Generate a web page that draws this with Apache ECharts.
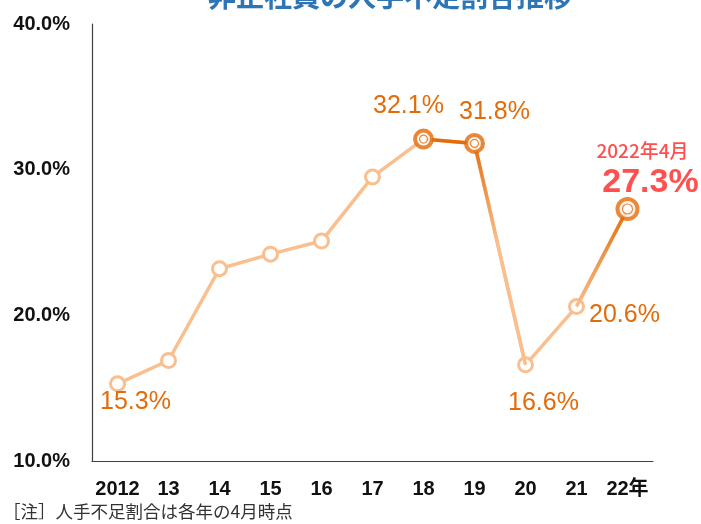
<!DOCTYPE html>
<html>
<head>
<meta charset="utf-8">
<script src="https://cdn.jsdelivr.net/npm/echarts@6/dist/echarts.min.js"></script>
<style>
  html, body { margin: 0; padding: 0; background: #fff; }
  #chart { width: 701px; height: 524px; }
</style>
</head>
<body>
<div id="chart"></div>
<script>
// データ
const years = ['2012', '13', '14', '15', '16', '17', '18', '19', '20', '21', '22年']
const shortageRate = [15.3, 16.9, 23.2, 24.2, 25.1, 29.5, 32.1, 31.8, 16.6, 20.6, 27.3]
const yTicks = [10, 20, 30, 40]
const titleText = '非正社員の人手不足割合推移'
const noteText = '［注］人手不足割合は各年の4月時点'

const LIGHT = '#F9BF8E'
const DARK = '#E36C0A'
const RED = '#FF5050'
const LABEL_FONT = "'Liberation Sans', 'Noto Sans CJK JP', sans-serif"

// ラベル表示する年と位置
const labelOffsets = { 0: [18, 18], 6: [-15, -33], 7: [20, -31], 8: [18, 38], 9: [48, 9] }
const highlightIdx = [6, 7, 10]

// 指定区間だけ残す
const segment = (from, to) => shortageRate.map((v, i) => (i >= from && i <= to ? v : null))
const onlyAt = (idx) => shortageRate.map((v, i) => (idx.includes(i) ? v : null))

const baseData = shortageRate.map((v, i) => {
  if (labelOffsets[i]) {
    return {
      value: v,
      label: {
        show: true,
        position: 'inside',
        offset: labelOffsets[i],
        formatter: (p) => p.value.toFixed(1) + '%',
        color: DARK,
        fontSize: 25,
        fontFamily: LABEL_FONT
      }
    }
  }
  if (i === 10) {
    return {
      value: v,
      label: {
        show: true,
        position: 'inside',
        offset: [15, -39],
        formatter: '{a|2022年4月}\n{b|' + v.toFixed(1) + '%}',
        align: 'center',
        rich: {
          a: { color: RED, fontSize: 19, fontFamily: "'Noto Sans CJK JP', sans-serif", fontWeight: 500, lineHeight: 26, align: 'center' },
          b: { color: RED, fontSize: 34, fontWeight: 'bold', fontFamily: LABEL_FONT, lineHeight: 38, align: 'center', padding: [0, 0, 0, 16] }
        }
      }
    }
  }
  return v
})

const chart = echarts.init(document.getElementById('chart'))

const option = {
  animation: false,
  title: {
    text: titleText,
    left: 203,
    top: -23,
    textStyle: { color: '#2E75B6', fontSize: 28, fontWeight: 'bold', fontFamily: "'Noto Sans CJK JP', sans-serif" }
  },
  graphic: [{
    type: 'text',
    left: 3,
    top: 503,
    style: { text: noteText, fill: '#333', fontSize: 17.5, fontFamily: "'Noto Sans CJK JP', sans-serif" }
  }],
  grid: { left: 92, right: 48, top: 24, bottom: 63 },
  xAxis: {
    type: 'category',
    data: years,
    boundaryGap: true,
    axisLine: { lineStyle: { color: '#404040', width: 1.2 } },
    axisTick: { show: false },
    axisLabel: { interval: 0, color: '#111', fontSize: 20, fontWeight: 'bold', margin: 18, fontFamily: LABEL_FONT }
  },
  yAxis: {
    type: 'value',
    min: yTicks[0],
    max: yTicks[yTicks.length - 1],
    interval: 10,
    axisLine: { show: true, lineStyle: { color: '#404040', width: 1.2 } },
    axisTick: { show: false },
    splitLine: { show: false },
    axisLabel: {
      color: '#111',
      fontSize: 20,
      fontWeight: 'bold',
      margin: 22,
      fontFamily: LABEL_FONT,
      formatter: (v) => v.toFixed(1) + '%'
    }
  },
  series: [
    {
      name: 'base',
      type: 'line',
      data: baseData,
      z: 2,
      lineStyle: { color: LIGHT, width: 3.5 },
      symbol: 'circle',
      symbolSize: 14,
      itemStyle: { color: '#fff', borderColor: LIGHT, borderWidth: 3 }
    },
    {
      name: '18-19',
      type: 'line',
      data: segment(6, 7),
      z: 3,
      symbol: 'none',
      lineStyle: { color: DARK, width: 3.5 }
    },
    {
      name: '19-20',
      type: 'line',
      data: segment(7, 8),
      z: 3,
      symbol: 'none',
      lineStyle: {
        width: 3.5,
        color: new echarts.graphic.LinearGradient(0, 0, 0, 1, [
          { offset: 0, color: DARK },
          { offset: 0.45, color: LIGHT },
          { offset: 1, color: LIGHT }
        ])
      }
    },
    {
      name: '21-22',
      type: 'line',
      data: segment(9, 10),
      z: 3,
      symbol: 'none',
      lineStyle: {
        width: 3.5,
        color: new echarts.graphic.LinearGradient(0, 0, 0, 1, [
          { offset: 0, color: DARK },
          { offset: 1, color: LIGHT }
        ])
      }
    },
    {
      name: 'ring',
      type: 'scatter',
      data: onlyAt(highlightIdx),
      z: 4,
      symbol: 'circle',
      symbolSize: (v, p) => (p.dataIndex === 10 ? 20 : 17),
      itemStyle: { color: '#fff', borderColor: DARK, borderWidth: 4 }
    },
    {
      name: 'ring-inner',
      type: 'scatter',
      data: onlyAt(highlightIdx),
      z: 5,
      symbol: 'circle',
      symbolSize: (v, p) => (p.dataIndex === 10 ? 10 : 8),
      itemStyle: { color: '#fff', borderColor: DARK, borderWidth: 1.2 }
    }
  ]
}

chart.setOption(option)
</script>
</body>
</html>
